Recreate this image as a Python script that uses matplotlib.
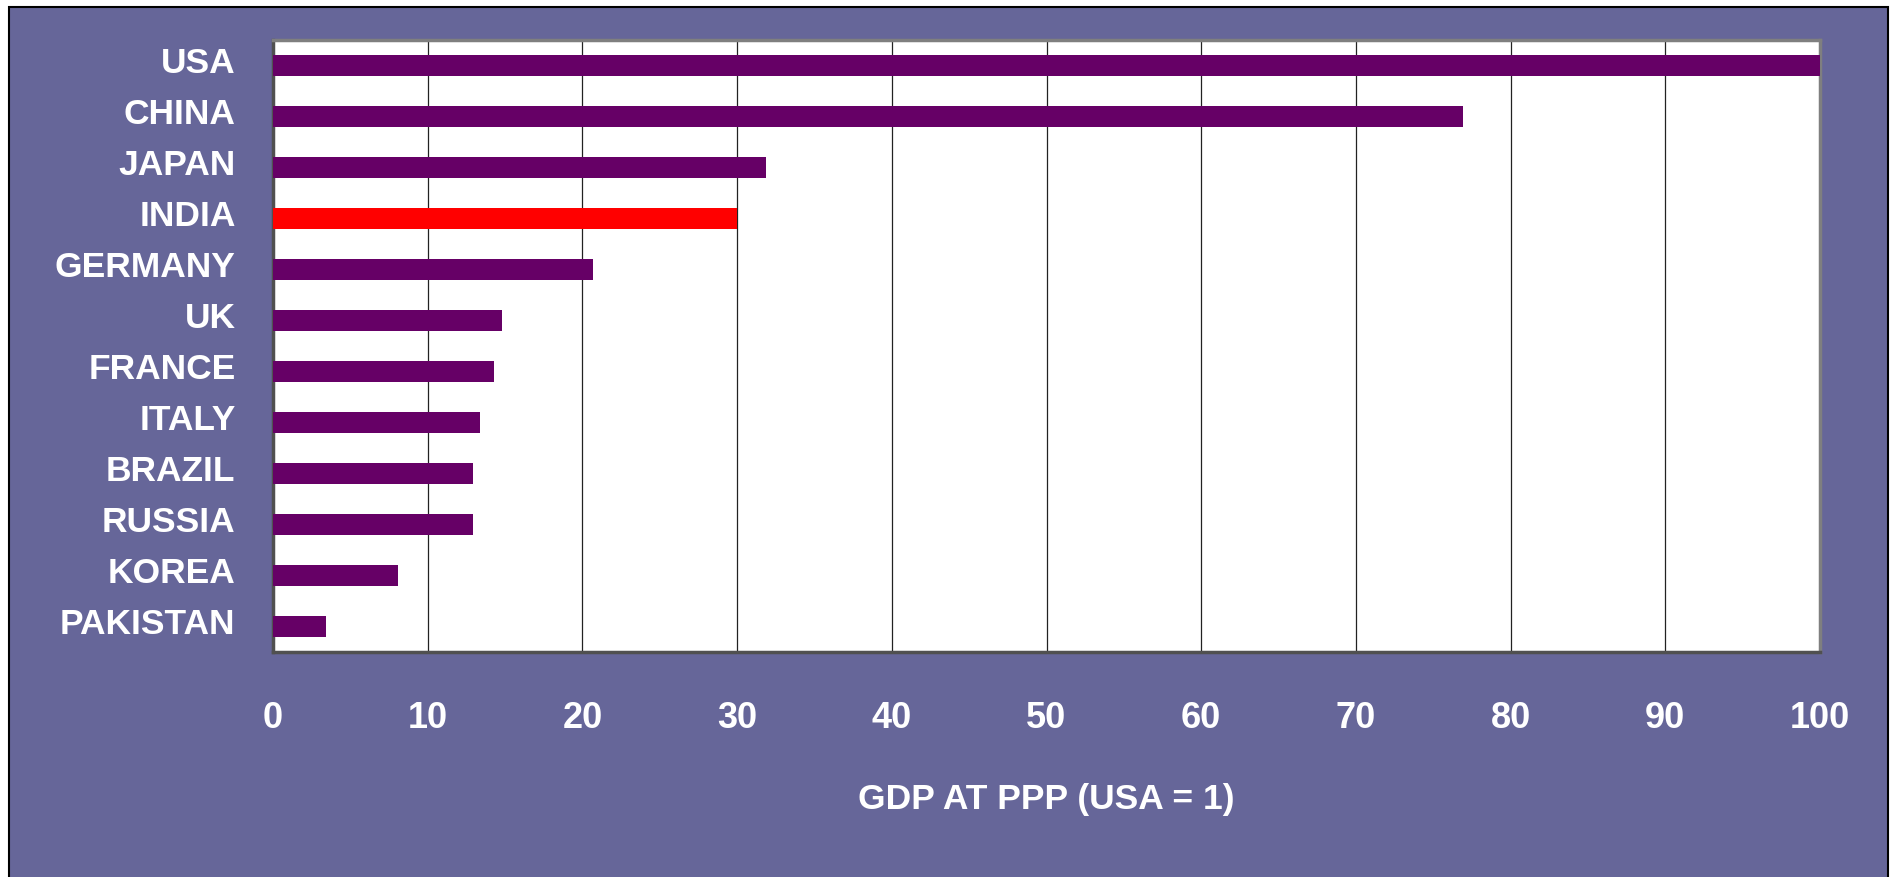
import matplotlib.pyplot as plt
from matplotlib.patches import Rectangle
from matplotlib.transforms import ScaledTranslation

countries = ['USA', 'CHINA', 'JAPAN', 'INDIA', 'GERMANY', 'UK', 'FRANCE',
             'ITALY', 'BRAZIL', 'RUSSIA', 'KOREA', 'PAKISTAN']
gdp_ppp = [100, 76.9, 31.9, 30, 20.7, 14.8, 14.3, 13.4, 12.9, 12.9, 8.1, 3.4]
highlight = 'INDIA'

plt.rcParams['font.family'] = ['Liberation Sans', 'DejaVu Sans']

fig = plt.figure(figsize=(18.92, 8.77), dpi=100, facecolor='white')
# purple panel with black border
fig.patches.append(Rectangle((9 / 1892, -0.02), (1888 - 9) / 1892, 1.02 - 7 / 877,
                             transform=fig.transFigure, facecolor='#666699',
                             edgecolor='black', linewidth=1.5, zorder=-5))

ax = fig.add_axes([273 / 1892, 1 - 652 / 877, (1820 - 273) / 1892, (652 - 40) / 877])
ax.set_zorder(2)
ax.set_facecolor('white')

colors = ['#ff0000' if c == highlight else '#660066' for c in countries]
ypos = list(range(len(countries)))
ax.barh(ypos, gdp_ppp, height=0.42, color=colors, zorder=3)

ax.set_xlim(0, 100)
ax.set_ylim(len(countries) - 0.5, -0.5)
ax.set_xticks(range(0, 101, 10))
ax.set_yticks(ypos)
ax.set_yticklabels(countries)
ax.xaxis.grid(True, color='#222222', linewidth=0.9, zorder=1)
ax.set_axisbelow(True)

ax.tick_params(axis='x', length=0, pad=35, labelsize=26, labelcolor='white')
ax.tick_params(axis='y', length=0, pad=27, labelsize=25.5, labelcolor='white')
for lbl in ax.get_xticklabels() + ax.get_yticklabels():
    lbl.set_fontweight('bold')
# category labels sit a little above the bar centres
up = ScaledTranslation(0, 0.055, fig.dpi_scale_trans)
for lbl in ax.get_yticklabels():
    lbl.set_transform(lbl.get_transform() + up)

for s in ax.spines.values():
    s.set_color('#7f7f7f')
    s.set_linewidth(2.5)
ax.spines['left'].set_color('#505050')
ax.spines['bottom'].set_color('#505050')

fig.text(1046 / 1892, 1 - 799 / 877, 'GDP AT PPP (USA = 1)', ha='center', va='center',
         fontsize=25.5, fontweight='bold', color='white', zorder=3)

fig.savefig('out.png', dpi=100, facecolor=fig.get_facecolor())
